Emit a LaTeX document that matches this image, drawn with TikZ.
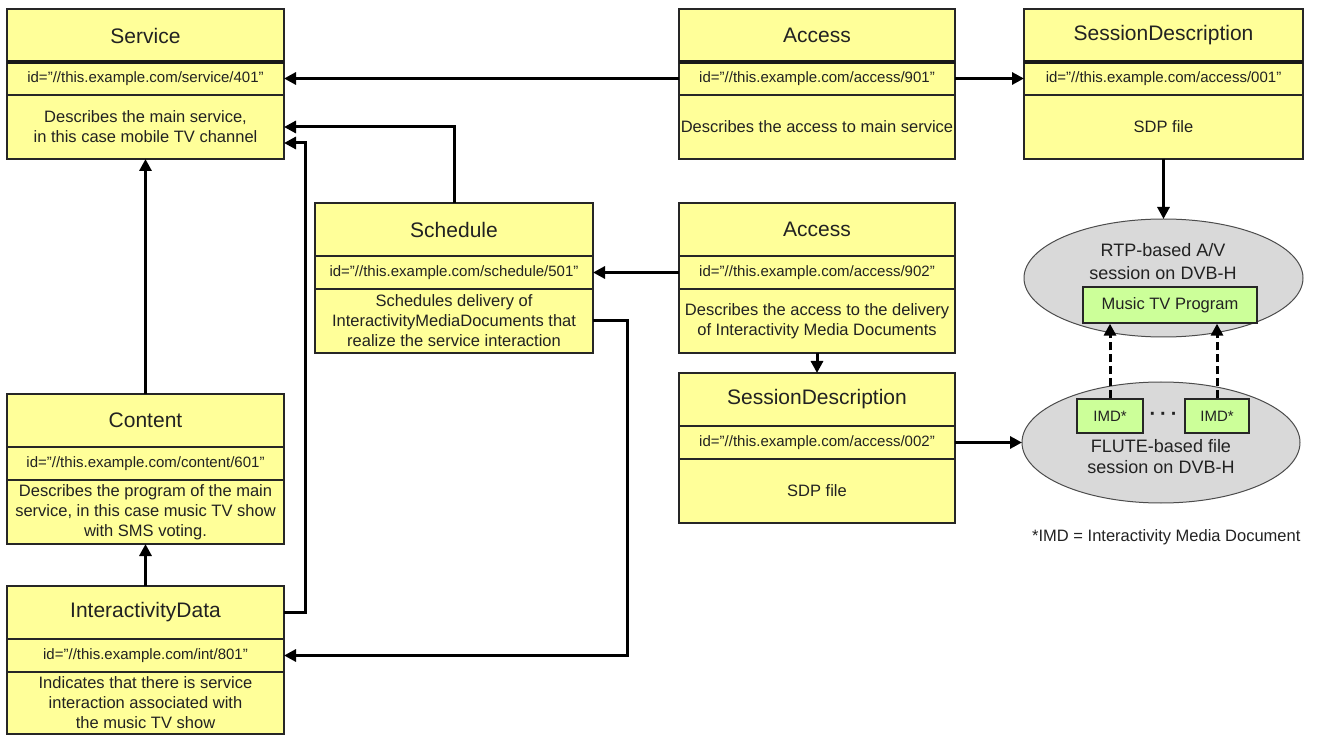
\documentclass[tikz,border=0pt]{standalone}
\usepackage{fontspec}
\setmainfont{Liberation Sans}
\usetikzlibrary{arrows.meta,shapes.geometric,calc}
\definecolor{boxyellow}{HTML}{FFFF99}
\definecolor{boxgreen}{HTML}{CCFF99}
\definecolor{ellgray}{HTML}{D9D9D9}
\definecolor{txt}{HTML}{222222}
\newcommand\umlbox[8]{%
  \node[titlecell, minimum width=#4pt] (#1T) at (#2,#3) {#5};
  \node[idcell, minimum width=#4pt] (#1I) at (#1T.south west) {#6};
  \node[desccell, minimum width=#4pt, minimum height=#8pt] (#1D) at (#1I.south west) {#7};
}
\begin{document}
\begin{tikzpicture}[x=1pt,y=-1pt,
  cell/.style={draw=black!85, fill=boxyellow, line width=1.3pt, inner sep=0pt, outer sep=0pt,
    align=center, text=txt, anchor=north west},
  titlecell/.style={cell, minimum height=53pt, font=\fontsize{21}{24}\selectfont},
  idcell/.style={cell, minimum height=33pt, font=\fontsize{15}{18}\selectfont},
  desccell/.style={cell, font=\fontsize{16.5}{20}\selectfont},
  sepline/.style={line width=3.2pt, black!90},
  conn/.style={line width=3pt, black, -{Triangle[length=12pt,width=12pt]}},
  dconn/.style={conn, dash pattern=on 8pt off 4pt},
  ell/.style={ellipse, draw=black!70, fill=ellgray, line width=1pt, inner sep=0pt, outer sep=0pt},
  greenbox/.style={draw=black!85, fill=boxgreen, line width=1.3pt, inner sep=0pt, text=txt},
  lbl/.style={text=txt, align=center, inner sep=0pt}
]
\fill[white] (0,0) rectangle (1326,735);
\useasboundingbox (0,0) rectangle (1326,735);

% class boxes
\umlbox{svc}{7}{9}{277}{Service}{id="//this.example.com/service/401"}{Describes the main service,\\in this case mobile TV channel}{64}
\umlbox{aa}{679}{9}{276}{Access}{id="//this.example.com/access/901"}{Describes the access to main service}{64}
\umlbox{sda}{1024}{9}{279}{SessionDescription}{id="//this.example.com/access/001"}{SDP file}{64}
\umlbox{sch}{315}{203}{278}{Schedule}{id="//this.example.com/schedule/501"}{Schedules delivery of\\InteractivityMediaDocuments that\\realize the service interaction}{64}
\umlbox{ab}{679}{203}{276}{Access}{id="//this.example.com/access/902"}{Describes the access to the delivery\\of Interactivity Media Documents}{64}
\umlbox{sdb}{679}{373}{276}{SessionDescription}{id="//this.example.com/access/002"}{SDP file}{64}
\umlbox{cnt}{7}{394}{277}{Content}{id="//this.example.com/content/601"}{Describes the program of the main\\service, in this case music TV show\\with SMS voting.}{64}
\umlbox{ida}{7}{586}{277}{InteractivityData}{id="//this.example.com/int/801"}{Indicates that there is service\\interaction associated with\\the music TV show}{62}

\draw[sepline] (svcT.south west) -- (svcT.south east);
\draw[sepline] (aaT.south west) -- (aaT.south east);
\draw[sepline] (sdaT.south west) -- (sdaT.south east);

% sessions
\node[ell, minimum width=279pt, minimum height=118pt] (rtp) at (1163.5,278) {};
\node[lbl, font=\fontsize{18}{23}\selectfont] (rtpL) at (1163,262) {RTP-based A/V\\session on DVB-H};
\node[greenbox, minimum width=174pt, minimum height=36pt, font=\fontsize{16.5}{20}\selectfont] (mus) at (1170,305) {Music TV Program};

\path (sdbI.east) ++(206,0) node[ell, minimum width=278pt, minimum height=121pt] (flute) {};
\node[greenbox, minimum width=66pt, minimum height=34pt, font=\fontsize{15}{18}\selectfont] (imda) at (1110,416) {IMD*};
\node[greenbox, minimum width=64pt, minimum height=34pt, font=\fontsize{15}{18}\selectfont] (imdb) at (1217,416) {IMD*};
\node[lbl, font=\bfseries\fontsize{20}{20}\selectfont] (dots) at (1163.5,416) {·\hspace{4pt}·\hspace{4pt}·};
\node[lbl, font=\fontsize{18}{21}\selectfont] (fluteL) at (1161,457) {FLUTE-based file\\session on DVB-H};

\node[lbl, anchor=west, font=\fontsize{16.5}{20}\selectfont] (note) at (1032,537) {*IMD = Interactivity Media Document};

% connectors
\draw[conn] (aaI.west) -- (svcI.east);
\draw[conn] (aaI.east) -- (sdaI.west);
\draw[conn] (sdaD.south) -- (rtp.north);
\draw[conn] (schT.north) |- (svcD.east);
\coordinate (k1) at (305,143);
\draw[conn] (idaT.east) -| (k1) -- (k1 -| svcD.east);
\draw[conn] (idaT.north) -- (cntD.south);
\draw[conn] (cntT.north) -- (svcD.south);
\draw[conn] (abI.west) -- (schI.east);
\coordinate (k2) at (627,320);
\draw[conn] (schD.east) -- (schD.east -| k2) |- (idaI.east);
\draw[conn] (abD.south) -- (sdbT.north);
\draw[conn] (sdbI.east) -- (flute.west);
\draw[dconn] (imda.north) -- (imda.north |- mus.south);
\draw[dconn] (imdb.north) -- (imdb.north |- mus.south);
\end{tikzpicture}
\end{document}
